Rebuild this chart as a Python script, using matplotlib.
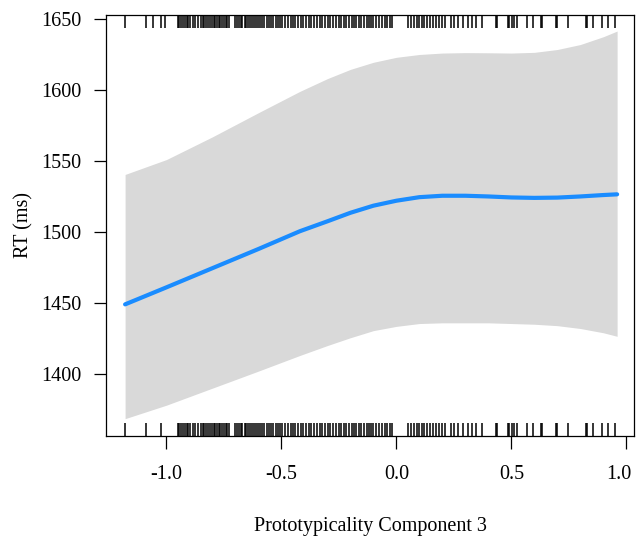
import matplotlib.pyplot as plt
import matplotlib.transforms as mtransforms

# effect curve and confidence band
x_fit = [-1.18, -1.0, -0.8, -0.6, -0.42, -0.3, -0.2, -0.1, 0.0, 0.1, 0.2, 0.3,
         0.4, 0.5, 0.6, 0.7, 0.8, 0.9, 0.96]
y_fit = [1449, 1461, 1474.5, 1488, 1500.5, 1507.5, 1513.5, 1518.5, 1522, 1524.5,
         1525.5, 1525.5, 1525, 1524.3, 1524, 1524.2, 1525, 1526, 1526.5]
y_upper = [1540.5, 1551, 1567, 1584, 1599, 1608, 1614.5, 1619.5, 1623, 1625, 1626,
           1626.3, 1626.2, 1626, 1626.5, 1628.5, 1632, 1637.5, 1641.5]
y_lower = [1368.5, 1378, 1390, 1402, 1413, 1420, 1425.5, 1430.5, 1433.5, 1435.5, 1436,
           1436, 1436, 1435.5, 1435, 1434, 1432, 1429, 1426.5]

# rug values (x of the observations)
rug_bottom = [-1.18, -1.09, -1.024,
              -0.951, -0.945, -0.936, -0.93, -0.921, -0.912, -0.905, -0.897, -0.886,
              -0.874, -0.862, -0.85, -0.842, -0.835, -0.826, -0.818, -0.81, -0.804,
              -0.795, -0.787, -0.78, -0.772, -0.766, -0.757, -0.75, -0.743, -0.735,
              -0.728, -0.7, -0.693, -0.686, -0.678, -0.67, -0.66, -0.652, -0.645,
              -0.637, -0.628, -0.62, -0.61, -0.6, -0.592, -0.583, -0.574, -0.565,
              -0.555, -0.545, -0.535, -0.524, -0.515, -0.505, -0.496, -0.485, -0.47,
              -0.46, -0.45, -0.44, -0.428, -0.416, -0.405, -0.392, -0.38, -0.37,
              -0.358, -0.345, -0.332, -0.322, -0.31, -0.298, -0.287, -0.275, -0.262,
              -0.25, -0.24, -0.228, -0.218, -0.205, -0.195, -0.185, -0.175, -0.163,
              -0.153, -0.142, -0.13, -0.12, -0.11, -0.1, -0.088, -0.075, -0.062,
              -0.05, -0.04, -0.03, -0.02,
              0.05, 0.062, 0.075, 0.088, 0.1, 0.11, 0.122, 0.135, 0.148, 0.16, 0.172,
              0.185, 0.198, 0.21,
              0.238, 0.252, 0.27, 0.29, 0.31, 0.33, 0.345, 0.372,
              0.433, 0.437, 0.485, 0.49, 0.502, 0.512, 0.524, 0.567, 0.593,
              0.628, 0.633, 0.693, 0.698, 0.746, 0.824, 0.829, 0.854, 0.893,
              0.92, 0.95]
rug_top = rug_bottom + [-1.057, -1.006]

x_ticks = [-1.0, -0.5, 0.0, 0.5, 1.0]
x_labels = ['-1.0', '-0.5', '0.0', '0.5', '1.0']
y_ticks = [1400, 1450, 1500, 1550, 1600, 1650]

plt.rcParams['font.family'] = ['Liberation Serif', 'DejaVu Serif']

fig = plt.figure(figsize=(6.36, 5.36), dpi=100)
ax = fig.add_axes([0.1667, 0.1866, 0.830, 0.7854])

ax.fill_between(x_fit, y_lower, y_upper, color='#d9d9d9', linewidth=0)
ax.plot(x_fit, y_fit, color='#1a8cff', linewidth=3, solid_capstyle='round')

trans = mtransforms.blended_transform_factory(ax.transData, ax.transAxes)
ax.vlines(rug_bottom, 0, 0.03, color='black', linewidth=1.1, transform=trans)
ax.vlines(rug_top, 0.97, 1.0, color='black', linewidth=1.1, transform=trans)

ax.set_xlim(-1.263, 1.033)
ax.set_ylim(1356.3, 1652.8)
ax.set_xticks(x_ticks)
ax.set_xticklabels(x_labels)
ax.set_yticks(y_ticks)
ax.tick_params(direction='out', length=9, width=0.9, labelsize=14.5)
ax.tick_params(axis='x', pad=12)
ax.tick_params(axis='y', pad=9)
for s in ax.spines.values():
    s.set_linewidth(0.9)

# keep the last x label inside the figure
last = ax.get_xticklabels()[-1]
last.set_transform(last.get_transform()
                   + mtransforms.ScaledTranslation(-0.07, 0, fig.dpi_scale_trans))

ax.set_xlabel('Prototypicality Component 3', fontsize=14.5, labelpad=24)
ax.set_ylabel('RT (ms)', fontsize=14.5, labelpad=5)

fig.savefig('out.png', dpi=100)
